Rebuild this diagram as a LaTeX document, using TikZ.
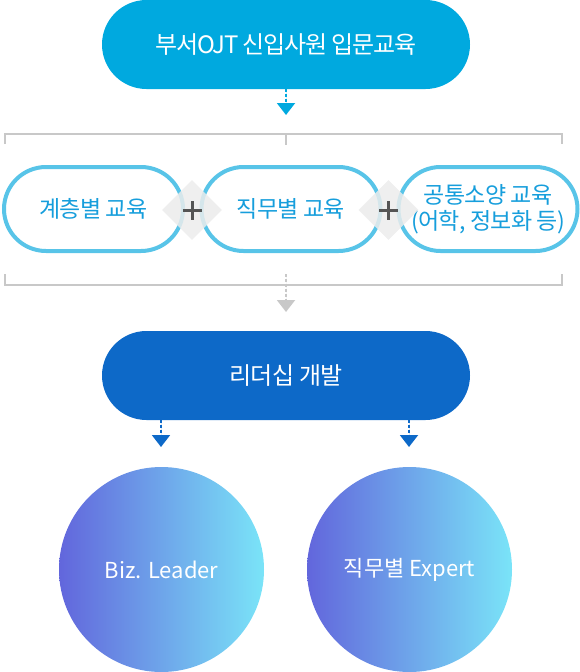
\documentclass[tikz,border=0pt]{standalone}
\usepackage{fontspec}
\setmainfont{Noto Sans CJK KR}
\newfontfamily\krtight[LetterSpace=-5]{Noto Sans CJK KR}
\newfontfamily\krpill[LetterSpace=-3]{Noto Sans CJK KR}
\usetikzlibrary{shapes.geometric,arrows.meta}
\definecolor{topblue}{RGB}{0,169,223}
\definecolor{leadblue}{RGB}{13,105,200}
\definecolor{pillline}{RGB}{88,196,232}
\definecolor{pilltext}{RGB}{22,158,220}
\definecolor{brk}{RGB}{200,200,200}
\definecolor{dia}{RGB}{236,236,236}
\definecolor{plusc}{RGB}{85,85,85}
\definecolor{gradl}{RGB}{98,102,220}
\definecolor{gradr}{RGB}{122,228,248}
\tikzset{
  bigpill/.style={rectangle, rounded corners=44.5pt, minimum width=368pt, minimum height=89pt, inner sep=0pt, text=white},
  subpill/.style={rectangle, rounded corners=42pt, minimum width=179pt, minimum height=84pt, inner sep=0pt, draw=pillline, line width=4pt, fill=white, text=pilltext, align=center, font=\krpill\fontsize{23}{26}\selectfont},
  plusdia/.style={diamond, minimum width=60pt, minimum height=60pt, inner sep=0pt, fill=dia, fill opacity=0.85},
  plusline/.style={draw=plusc, line width=3pt},
  brkline/.style={draw=brk, line width=2pt},
  dasharr/.style={line width=2pt, dash pattern=on 3pt off 2pt, -{Triangle[width=18pt,length=12pt]}},
  ball/.style={circle, minimum size=205pt, inner sep=0pt, left color=gradl, right color=gradr, text=white, font=\fontsize{22}{26}\selectfont},
}
\begin{document}
\begin{tikzpicture}[x=1pt,y=-1pt]
\useasboundingbox (0,0) rectangle (580,672);
% top pill
\node[bigpill, fill=topblue, font=\krtight\fontsize{24}{28}\selectfont] (top) at (286,44.5) {부서OJT 신입사원 입문교육};
\coordinate (toparr) at (286,115);
\draw[dasharr, draw=topblue, fill=topblue] (top.south) -- (toparr);
% top bracket
\draw[brkline] (5,144) -- (5,134) -- (562,134) -- (562,144);
\draw[brkline] (286,134) -- (286,145);
% sub pills
\node[subpill] (p1) at (93.5,209) {계층별 교육};
\node[subpill] (p2) at (291,209) {직무별 교육};
\node[subpill] (p3) at (488,209) {공통소양 교육\\(어학, 정보화 등)};
% diamonds with plus
\node[plusdia] (d1) at (192,210) {};
\node[plusdia] (d2) at (388.5,210) {};
\draw[plusline] ([xshift=-9.5pt]d1.center) -- ([xshift=9.5pt]d1.center);
\draw[plusline] ([yshift=-9.5pt]d1.center) -- ([yshift=9.5pt]d1.center);
\draw[plusline] ([xshift=-9.5pt]d2.center) -- ([xshift=9.5pt]d2.center);
\draw[plusline] ([yshift=-9.5pt]d2.center) -- ([yshift=9.5pt]d2.center);
% bottom bracket
\draw[brkline] (5,274) -- (5,285) -- (562,285) -- (562,274);
\coordinate (brkc) at (286,274);
\coordinate (midarr) at (286,312);
\draw[dasharr, draw=brk, fill=brk] (brkc) -- (midarr);
% leadership pill
\node[bigpill, fill=leadblue, font=\krpill\fontsize{24}{28}\selectfont] (lead) at (286,375.5) {리더십 개발};
% circles
\node[ball] (c1) at (161.5,569.5) {Biz. Leader};
\node[ball] (c2) at (409.5,569.5) {직무별 Expert};
\coordinate (a1) at (161,447);
\coordinate (a2) at (409,447);
\draw[dasharr, draw=leadblue, fill=leadblue] (a1 |- lead.south) -- (a1);
\draw[dasharr, draw=leadblue, fill=leadblue] (a2 |- lead.south) -- (a2);
\end{tikzpicture}
\end{document}
